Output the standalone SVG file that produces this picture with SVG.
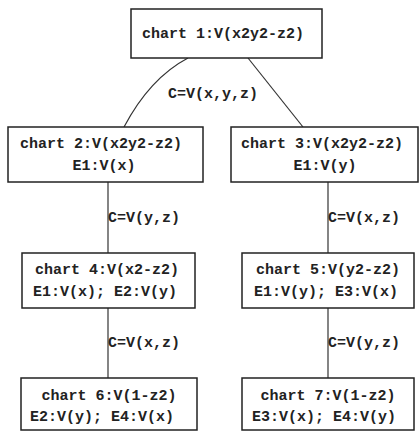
<svg xmlns="http://www.w3.org/2000/svg" width="420" height="432" viewBox="0 0 420 432">
<style>
.box{fill:#fff;stroke:#222;stroke-width:1.5}
.t{font-family:"Liberation Mono","DejaVu Sans Mono",monospace;font-size:15px;font-weight:bold;fill:#222;text-anchor:middle}
.l{font-family:"Liberation Mono","DejaVu Sans Mono",monospace;font-size:15px;font-weight:bold;fill:#222}
.c{fill:none;stroke:#333;stroke-width:1.2}
</style>
<rect width="420" height="432" fill="#fff"/>
<g id="connectors">
<path class="c" d="M188,58 Q150,78 124,127"/>
<path class="c" d="M248,58 L303,127"/>
<line class="c" x1="108" y1="182" x2="108" y2="253"/>
<line class="c" x1="328" y1="182" x2="328" y2="253"/>
<line class="c" x1="108" y1="308" x2="108" y2="378"/>
<line class="c" x1="328" y1="308" x2="328" y2="378"/>
<text class="l" x="168" y="98">C=V(x,y,z)</text>
<text class="l" x="108" y="222">C=V(y,z)</text>
<text class="l" x="328" y="222">C=V(x,z)</text>
<text class="l" x="108" y="347">C=V(x,z)</text>
<text class="l" x="328" y="347">C=V(y,z)</text>
</g>
<g id="chart1">
<rect class="box" x="131" y="9" width="191" height="49"/>
<text class="t" x="223" y="38">chart 1:V(x2y2-z2)</text>
</g>
<g id="chart2">
<rect class="box" x="8" y="127" width="195" height="55"/>
<text class="t" x="101" y="148">chart 2:V(x2y2-z2)</text>
<text class="t" x="104" y="170">E1:V(x)</text>
</g>
<g id="chart3">
<rect class="box" x="231" y="127" width="187" height="55"/>
<text class="t" x="322" y="148">chart 3:V(x2y2-z2)</text>
<text class="t" x="325" y="170">E1:V(y)</text>
</g>
<g id="chart4">
<rect class="box" x="22" y="253" width="173" height="55"/>
<text class="t" x="107" y="274">chart 4:V(x2-z2)</text>
<text class="t" x="105" y="296">E1:V(x); E2:V(y)</text>
</g>
<g id="chart5">
<rect class="box" x="242" y="253" width="172" height="55"/>
<text class="t" x="328" y="274">chart 5:V(y2-z2)</text>
<text class="t" x="326" y="296">E1:V(y); E3:V(x)</text>
</g>
<g id="chart6">
<rect class="box" x="21" y="378" width="176" height="52"/>
<text class="t" x="109" y="400">chart 6:V(1-z2)</text>
<text class="t" x="102" y="421">E2:V(y); E4:V(x)</text>
</g>
<g id="chart7">
<rect class="box" x="242" y="378" width="172" height="52"/>
<text class="t" x="328" y="400">chart 7:V(1-z2)</text>
<text class="t" x="324" y="421">E3:V(x); E4:V(y)</text>
</g>
</svg>
